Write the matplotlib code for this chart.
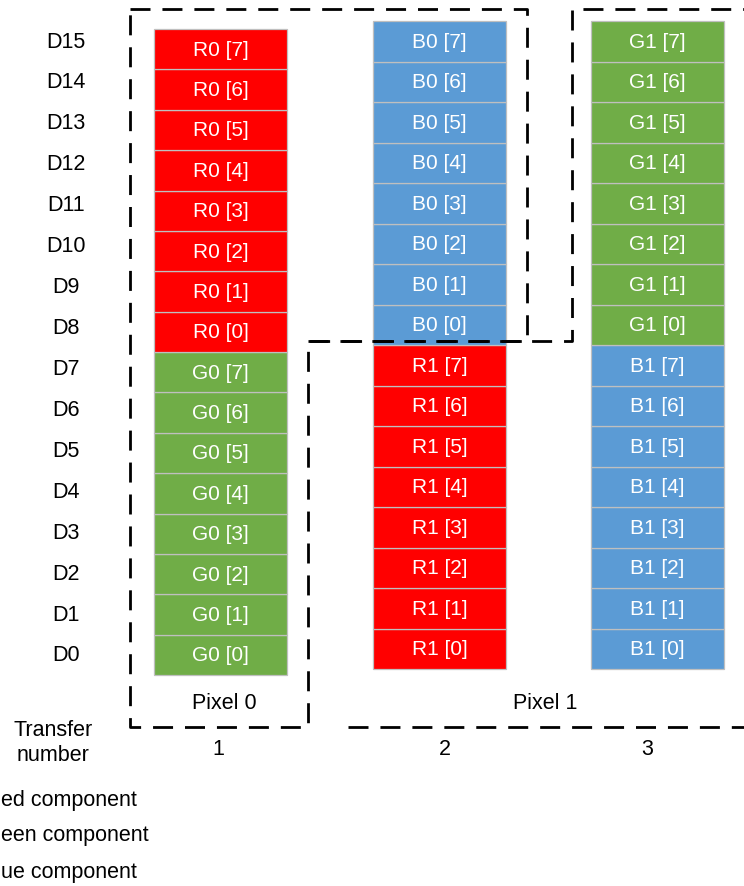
"""
16-bit RGB transfer layout - two 24-bit pixels packed into three 16-bit transfers
"""

import matplotlib.pyplot as plt

plt.rcParams['font.family'] = ['Liberation Sans', 'DejaVu Sans']

# Data: which component byte sits in which half of each transfer
transfer_labels = ['1', '2', '3']
low_byte = ['G0', 'R1', 'B1']     # bits D0-D7
high_byte = ['R0', 'B0', 'G1']    # bits D8-D15
component_colors = {'R': '#FF0000', 'G': '#70AD47', 'B': '#5B9BD5'}
row_labels = ['D%d' % i for i in range(16)]
pixel_labels = ['Pixel 0', 'Pixel 1']
# legend swatches and first letters are cut off by the picture edge
legend_labels = ['ed component', 'een component', 'ue component']

# Layout (pixels, y grows downwards)
col_left = [154, 373, 591]
col_width = 133
col_top = [30, 22, 22]
col_bottom = [676, 670, 670]
transfer_x = [218, 445, 647]
label_x = 66
label_y0, label_dy = 656, 40.93
dash = (0, (7.2, 4.3))

fig = plt.figure(figsize=(7.44, 8.87), dpi=100)
ax = fig.add_axes([0, 0, 1, 1])
ax.set_xlim(0, 744)
ax.set_ylim(887, 0)
ax.axis('off')

# Bit cells for every transfer
for c in range(len(transfer_labels)):
    h = (col_bottom[c] - col_top[c]) / 16.0
    for bit in range(16):
        if bit < 8:
            name, idx = low_byte[c], bit
        else:
            name, idx = high_byte[c], bit - 8
        y = col_bottom[c] - (bit + 1) * h
        ax.bar(col_left[c], h, width=col_width, bottom=y, align='edge',
               color=component_colors[name[0]], edgecolor='#BFBFBF', linewidth=0.9)
        ax.text(col_left[c] + col_width / 2, y + h / 2, '%s [%d]' % (name, idx),
                color='white', fontsize=15, ha='center', va='center')

# Row labels D0..D15
for i, lab in enumerate(row_labels):
    ax.text(label_x, label_y0 - i * label_dy, lab, fontsize=15.5,
            ha='center', va='center')

# Dashed pixel outlines
ax.plot([130, 527, 527, 308, 308, 130, 130], [10, 10, 342, 342, 728, 728, 10],
        color='black', lw=2, linestyle=dash)
ax.plot([308, 572, 572, 760], [342, 342, 10, 10], color='black', lw=2, linestyle=dash)
ax.plot([348, 760], [728, 728], color='black', lw=2, linestyle=dash)

ax.text(224, 704, pixel_labels[0], fontsize=15.5, ha='center', va='center')
ax.text(545, 704, pixel_labels[1], fontsize=15.5, ha='center', va='center')

# Transfer numbers
ax.text(53, 743, 'Transfer\nnumber', fontsize=15.5, ha='center', va='center',
        linespacing=1.3)
for x, t in zip(transfer_x, transfer_labels):
    ax.text(x, 750, t, fontsize=15.5, ha='center', va='center')

# Legend text
legend_y = [801, 836, 873]
for lab, y in zip(legend_labels, legend_y):
    ax.text(1, y, lab, fontsize=15.5, ha='left', va='center')

fig.savefig('out.png', dpi=100)
